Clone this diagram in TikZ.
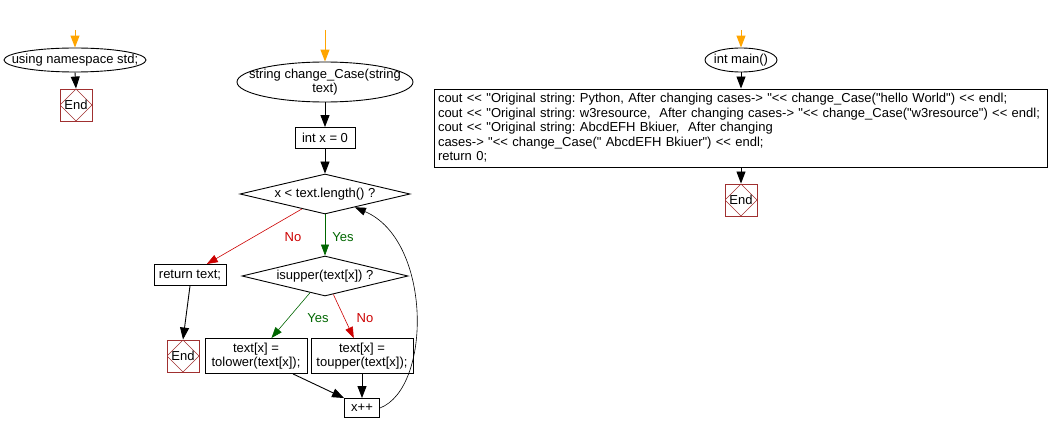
\documentclass[tikz,border=0pt]{standalone}
\usepackage{fontspec}
\setmainfont{Liberation Sans}[Ligatures=TeXOff]
\usetikzlibrary{arrows.meta,shapes.geometric,calc}
\definecolor{endred}{HTML}{A03030}
\definecolor{noRed}{HTML}{CC0000}
\definecolor{yesGreen}{HTML}{006600}
\definecolor{startOrange}{HTML}{FFA500}
\tikzset{
  every node/.style={font=\fontsize{13}{14.5}\selectfont\frenchspacing, inner sep=0pt},
  term/.style 2 args={ellipse, draw, line width=0.9pt, minimum width=#1, minimum height=#2},
  termtext/.style={align=center, inner sep=0pt},
  proc/.style={rectangle, draw, line width=0.9pt, align=center},
  cond/.style={diamond, draw, line width=0.9pt, aspect=4.25, minimum width=#1, minimum height=40pt},
  endbox/.style={rectangle, draw=endred, line width=0.9pt, minimum width=32pt, minimum height=32pt,
    path picture={\draw[endred, line width=0.6pt] (path picture bounding box.north) -- (path picture bounding box.east) -- (path picture bounding box.south) -- (path picture bounding box.west) -- cycle;}},
  flow/.style={-{Triangle[length=12pt,width=9pt]}, line width=0.9pt},
  startflow/.style={-{Triangle[length=12pt,width=9pt]}, line width=1pt, draw=startOrange, color=startOrange},
  yesflow/.style={-{Triangle[length=11pt,width=8pt]}, line width=0.6pt, draw=yesGreen, color=yesGreen},
  noflow/.style={-{Triangle[length=11pt,width=8pt]}, line width=0.6pt, draw=noRed, color=noRed},
  loopflow/.style={-{Triangle[length=11pt,width=8pt]}, line width=0.6pt},
  yeslbl/.style={text=yesGreen},
  nolbl/.style={text=noRed},
}
\begin{document}
\begin{tikzpicture}[x=1pt,y=-1pt]
\useasboundingbox (0,0) rectangle (1050,433);
% left column
\coordinate (s1) at (75,30);
\node[term={142pt}{24pt}, label={[termtext]center:using namespace std;}] (ns) at (75,60) {};
\node[endbox] (e1) at (76,105) {End};
\draw[startflow] (s1) -- (ns.north);
\draw[flow] (ns.south) -- (e1.north);
% middle column
\coordinate (s2) at (325,30);
\node[term={176pt}{40pt}, label={[termtext]center:string change\_Case(string\\text)}] (cc) at (325,82) {};
\node[proc, minimum width=60pt, minimum height=21pt] (ix) at (325,138) {int x = 0};
\node[cond=170pt] (d1) at (325,194) {x < text.length() ?};
\node[proc, minimum width=72pt, minimum height=21pt] (rt) at (190,275) {return text;};
\node[endbox] (e2) at (183,356) {End};
\node[cond=166pt] (d2) at (325,276) {isupper(text[x]) ?};
\node[proc, minimum width=102pt, minimum height=35pt] (tl) at (256,356) {text[x] =\\tolower(text[x]);};
\node[proc, minimum width=102pt, minimum height=35pt] (tu) at (362,356) {text[x] =\\toupper(text[x]);};
\node[proc, minimum width=35pt, minimum height=19pt] (xp) at (362,408) {x++};
\draw[startflow] (s2) -- (cc.north);
\draw[flow] (cc.south) -- (ix.north);
\draw[flow] (ix.south) -- (d1.north);
\draw[noflow] ($(d1.west)!0.73!(d1.south)$) -- ($(rt.north west)!0.73!(rt.north east)$);
\node[nolbl] (n1) at (293,237) {No};
\draw[yesflow] (d1.south) -- (d2.north);
\node[yeslbl] (y1) at (343,237) {Yes};
\draw[flow] (rt.south) -- (e2.north);
\draw[yesflow] ($(d2.west)!0.82!(d2.south)$) -- ($(tl.north west)!0.65!(tl.north east)$);
\node[yeslbl] (y2) at (318,318) {Yes};
\draw[noflow] ($(d2.south)!0.1!(d2.east)$) -- ($(tu.north west)!0.42!(tu.north east)$);
\node[nolbl] (n2) at (365,318) {No};
\draw[flow] ($(tl.south west)!0.86!(tl.south east)$) -- (xp.north west);
\draw[flow] (tu.south) -- (xp.north);
\draw[loopflow] (xp.east) .. controls (432,388) and (432,240) .. ($(d1.south)!0.35!(d1.east)$);
% right column
\coordinate (s3) at (741,30);
\node[term={72pt}{24pt}, label={[termtext]center:int main()}] (im) at (741,60) {};
\node[proc, minimum width=613pt, minimum height=78pt, text width=605pt, align=left] (bb) at (740.5,128) {cout << "Original string: Python, After changing cases-> "<< change\_Case("hello World") << endl;\\
cout << "Original string: w3resource,\ \ After changing cases-> "<< change\_Case("w3resource") << endl;\\
cout << "Original string: AbcdEFH Bkiuer,\ \ After changing\\
cases-> "<< change\_Case(" AbcdEFH Bkiuer") << endl;\\
return 0;};
\node[endbox] (e3) at (741,200) {End};
\draw[startflow] (s3) -- (im.north);
\draw[flow] (im.south) -- (bb.north -| im.south);
\draw[flow] (bb.south -| e3.north) -- (e3.north);
\end{tikzpicture}
\end{document}
